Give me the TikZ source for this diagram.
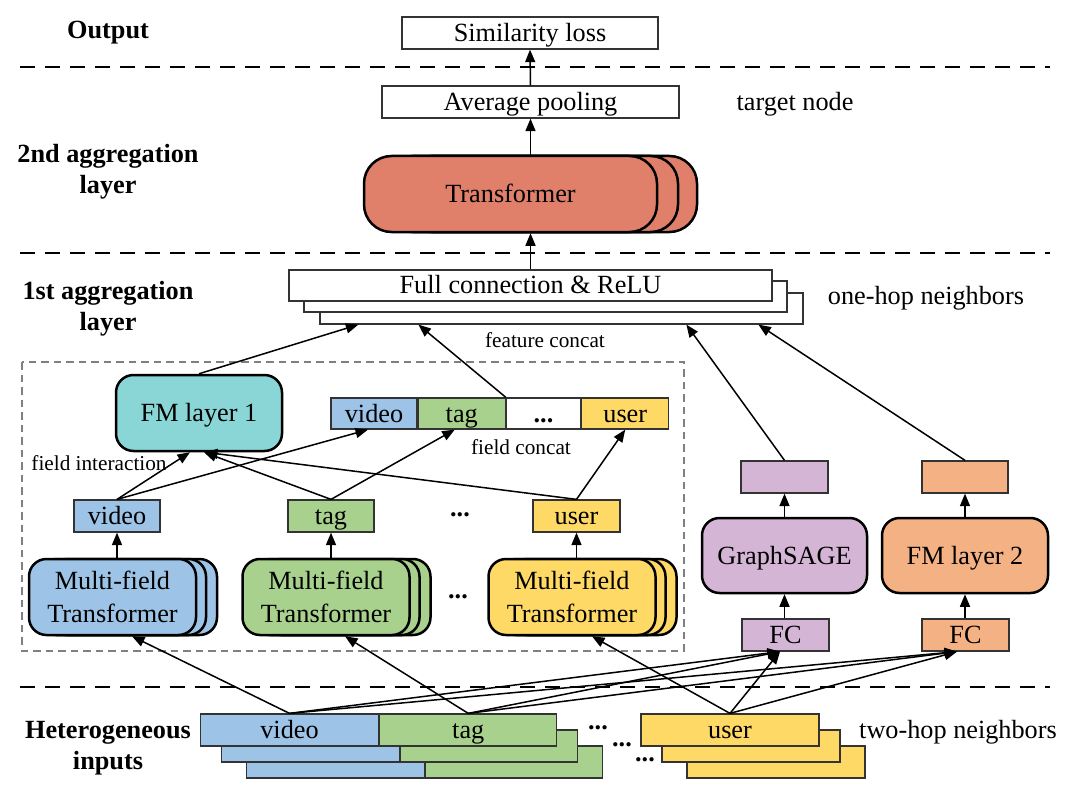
\documentclass[tikz,border=0pt]{standalone}
\usepackage{fontspec}
\setmainfont{Liberation Serif}
\usetikzlibrary{arrows.meta,calc,positioning}
\definecolor{vidblue}{HTML}{9DC3E6}
\definecolor{taggreen}{HTML}{A9D18E}
\definecolor{useryellow}{HTML}{FFD966}
\definecolor{sagepurple}{HTML}{D5B5D6}
\definecolor{fmorange}{HTML}{F4B183}
\definecolor{fmteal}{HTML}{8AD5D6}
\definecolor{trsalmon}{HTML}{E0806B}
\begin{document}
\begin{tikzpicture}[x=0.4pt,y=-0.4pt,
    every node/.style={font=\fontsize{10.5}{13}\selectfont},
    wh/.style 2 args={minimum width=#1*0.4pt,minimum height=#2*0.4pt,inner sep=0pt},
    oneline/.style={text height=8.4pt,text depth=1.6pt},
    box/.style={draw=black!80,line width=0.5pt,fill=white,oneline},
    rbox/.style={draw,line width=1pt,rounded corners=7pt},
    arr/.style={-{Triangle[length=5pt,width=4pt]},line width=0.6pt},
    lbl/.style={font=\fontsize{10.5}{12.4}\selectfont\bfseries,align=center},
    small/.style={font=\fontsize{8.5}{10}\selectfont},
    sep/.style={line width=0.9pt,dash pattern=on 6pt off 4pt}]
    \useasboundingbox (0,0) rectangle (1080,786);
    \draw[sep] (20,67) -- (1050,67);
    \draw[sep] (20,253) -- (1050,253);
    \draw[sep] (20,687) -- (1050,687);
    \node[lbl] (outlbl) at (108,33) {Output};
    \node[lbl] (agg2lbl) at (108,172) {2nd aggregation\\layer};
    \node[lbl] (agg1lbl) at (108,309) {1st aggregation\\layer};
    \node[lbl] (inlbl) at (108,748) {Heterogeneous\\inputs};
    \node[box,wh={256}{32}] (sim) at (530,33) {Similarity loss};
    \node[box,wh={297}{32}] (avg) at (530.5,102) {Average pooling};
    \node (tgt) at (795,104) {target node};
    \foreach \d/\n in {40/trC,21/trB}
        \node[rbox,rounded corners=11pt,fill=trsalmon,wh={293}{76}] (\n) at (510.5+\d,194) {};
    \node[rbox,rounded corners=11pt,fill=trsalmon,wh={293}{76},oneline] (tr) at (510.5,194) {Transformer};
    \foreach \d/\e/\n in {31/23/fcC,15/11/fcB}
        \node[box,wh={483}{31}] (\n) at (530.5+\d,285.5+\e) {};
    \node[box,wh={483}{31}] (fc) at (530.5,285.5) {Full connection \& ReLU};
    \node (onehop) at (926,298) {one-hop neighbors};
    \node[small] (featcat) at (545,340) {feature concat};
    \draw[gray,line width=0.5pt,dash pattern=on 3pt off 2pt] (22,362) rectangle (684,651);
    \node[rbox,fill=fmteal,wh={166}{76},oneline] (fm1) at (199,413) {FM layer 1};
    \node[box,fill=vidblue,wh={86}{31}] (cvid) at (374,413.5) {video};
    \node[box,fill=taggreen,wh={87}{31},right=0pt of cvid] (ctag) {tag};
    \node[box,wh={74}{31},right=0pt of ctag] (cdots) {\textbf{...}};
    \node[box,fill=useryellow,wh={87}{31},right=0pt of cdots] (cuser) {user};
    \node[small] (fieldcat) at (521,447) {field concat};
    \node[small] (fieldint) at (99,463) {field interaction};
    \node[box,fill=vidblue,wh={86}{32}] (svid) at (117,516) {video};
    \node[box,fill=taggreen,wh={86}{32}] (stag) at (331,516) {tag};
    \node[box,fill=useryellow,wh={87}{32}] (suser) at (576.5,516) {user};
    \node (sdots) at (460,515) {\textbf{...}};
    \foreach \x/\c/\n in {112.5/vidblue/mfb,326/taggreen/mfg,572/useryellow/mfy}{
        \foreach \d in {21,10}
            \node[rbox,fill=\c,wh={167}{76}] (\n-\d) at (\x+\d,597) {};
        \node[rbox,fill=\c,wh={167}{76},align=center] (\n) at (\x,597) {Multi-field\\Transformer};
    }
    \node (mfdots) at (458,597) {\textbf{...}};
    \node[box,fill=sagepurple,wh={87}{32}] (gsout) at (784.5,477) {};
    \node[box,fill=fmorange,wh={86}{32}] (fmout) at (965,477) {};
    \node[rbox,fill=sagepurple,wh={165}{75},oneline] (gs) at (784.5,555.5) {GraphSAGE};
    \node[rbox,fill=fmorange,wh={166}{75},oneline] (fm2) at (965,555.5) {FM layer 2};
    \node[box,fill=sagepurple,wh={87}{32}] (fcp) at (785.5,635) {FC};
    \node[box,fill=fmorange,wh={87}{32}] (fco) at (965.5,635) {FC};
    \foreach \dx/\dy/\k in {46/32/3,21/16/2}{
        \node[box,fill=vidblue,wh={178}{32}] (ivid\k) at (289.5+\dx,730+\dy) {};
        \node[box,fill=taggreen,wh={177}{32},right=0pt of ivid\k] (itag\k) {};
        \node[box,fill=useryellow,wh={178}{32}] (iuser\k) at (730+\dx,730+\dy) {};
    }
    \node[box,fill=vidblue,wh={178}{32}] (ivid) at (289.5,730) {video};
    \node[box,fill=taggreen,wh={177}{32},right=0pt of ivid] (itag) {tag};
    \node[box,fill=useryellow,wh={178}{32}] (iuser) at (730,730) {user};
    \foreach \x/\y/\k in {598/728/1,622/745/2,645/760/3}
        \node (idots\k) at (\x,\y) {\textbf{...}};
    \node (twohop) at (958,732) {two-hop neighbors};
    \draw[arr] (avg.north) -- (sim.south);
    \draw[arr] (avg.south |- tr.north) -- (avg.south);
    \draw[arr] (fc.north) -- (fc.north |- tr.south);
    \draw[arr] (fm1.north) -- ($(fcC.south west)+(39,0)$);
    \draw[arr] (ctag.north east) -- ($(fcC.south west)+(99,0)$);
    \draw[arr] (gsout.north) -- ($(fcC.south west)+(367,0)$);
    \draw[arr] (fmout.north) -- ($(fcC.south west)+(439,0)$);
    \draw[arr] (svid.north) -- ($(fm1.south)+(-9,0)$);
    \draw[arr] (svid.north) -- ($(cvid.south)+(-6,0)$);
    \draw[arr] (stag.north) -- ($(fm1.south)+(5,0)$);
    \draw[arr] (stag.north) -- ($(ctag.south)+(-7,0)$);
    \draw[arr] (suser.north) -- ($(fm1.south)+(6,0)$);
    \draw[arr] (suser.north) -- (cuser.south);
    \foreach \m/\s in {mfb/svid,mfg/stag,mfy/suser}
        \draw[arr] (\s.south |- \m.north) -- (\s.south);
    \draw[arr] (ivid.north) -- ($(mfb.south)+(19.5,0)$);
    \draw[arr] (itag.north) -- ($(mfg.south)+(19,0)$);
    \draw[arr] (iuser.north) -- ($(mfy.south)+(20,0)$);
    \foreach \i in {ivid,itag,iuser}{
        \draw[arr] (\i.north) -- ($(fcp.south)+(-5.5,0)$);
        \draw[arr] (\i.north) -- ($(fco.south)+(-8.5,0)$);
    }
    \draw[arr] (gs.south |- fcp.north) -- (gs.south);
    \draw[arr] (gs.north) -- (gs.north |- gsout.south);
    \draw[arr] (fm2.south |- fco.north) -- (fm2.south);
    \draw[arr] (fm2.north) -- (fmout.south);
\end{tikzpicture}
\end{document}
